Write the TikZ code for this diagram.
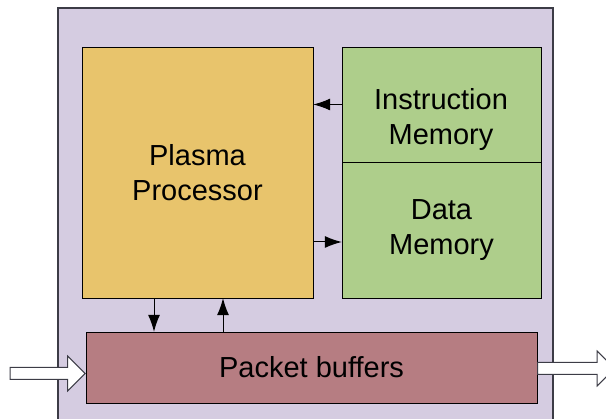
\documentclass[tikz,border=0pt]{standalone}
\usepackage{fontspec}
\setmainfont{Liberation Sans}
\usetikzlibrary{arrows.meta,shapes.arrows}
\definecolor{lilas}{RGB}{213,204,225}
\definecolor{orange}{RGB}{232,196,108}
\definecolor{vert}{RGB}{174,206,139}
\definecolor{mauve}{RGB}{182,125,130}
\definecolor{bord}{RGB}{60,60,70}
\tikzset{
  box/.style={draw,inner sep=0pt,font=\fontsize{29}{35.5}\selectfont,align=center},
  lbl/.style={inner sep=0pt,font=\fontsize{29}{35.5}\selectfont,align=center},
  arr/.style={-{Latex[length=17pt,width=12pt]},line width=1pt},
  bigarrow/.style={single arrow,draw=bord,fill=white,line width=1pt,inner sep=5.5pt,
    single arrow head extend=11.5pt,single arrow tip angle=90},
}

\begin{document}
\begin{tikzpicture}[x=1pt,y=-1pt]%
        \clip (0,0) rectangle (606,419);%%
        \useasboundingbox (0,0) rectangle (606,419);%%
        \node[box,fill=lilas,draw=bord,line width=1.5pt,minimum width=495pt,minimum height=422pt] (chip) at (305.5,219) {}; %%
        \node[box,fill=orange,minimum width=231pt,minimum height=251pt] (cpu) at (197.5,172.5) {Plasma\\Processor}; %%
        \node[box,fill=vert,minimum width=199pt,minimum height=115pt] (imem) at (441.5,104.5) {}; %%
        \node[box,fill=vert,minimum width=199pt,minimum height=136pt] (dmem) at (441.5,230) {Data\\Memory}; %%
        \node[lbl] (imemtxt) at (441,119.5) {Instruction\\Memory}; %%
        \node[box,fill=mauve,minimum width=451pt,minimum height=71pt] (buf) at (311.5,367.5) {Packet buffers}; %%
        \draw[arr] (imem.west) -- (imem.west -| cpu.east); %%
        \draw[arr] ([yshift=-69.5pt]cpu.east) -- ([yshift=-69.5pt]cpu.east -| dmem.west); %%
        \draw[arr] ([xshift=-43.5pt]cpu.south) -- ([xshift=-43.5pt]cpu.south |- buf.north); %%
        \draw[arr] ([xshift=25.5pt]cpu.south |- buf.north) -- ([xshift=25.5pt]cpu.south); %%
        \node[bigarrow,minimum height=75pt,anchor=tip] (inarr) at ([yshift=-6pt]buf.west) {}; %%
        \node[bigarrow,minimum height=77pt,anchor=tail] (outarr) at ([yshift=-1pt]buf.east) {}; %%
\end{tikzpicture}
\end{document}
